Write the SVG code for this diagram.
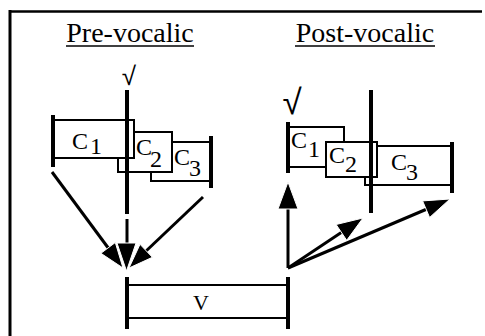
<svg xmlns="http://www.w3.org/2000/svg" width="485" height="336" viewBox="0 0 485 336">
<style>
text{font-family:"Liberation Serif","Times New Roman",serif;fill:#000}
.title{font-size:28px}
.lab{font-size:24px}
.root{font-family:"DejaVu Sans",sans-serif;font-weight:200}
.box{fill:#fff;stroke:#000;stroke-width:2}
.bar{stroke:#000;stroke-width:4;fill:none}
.thin{stroke:#000;stroke-width:1.6;fill:none}
.shaft{stroke:#000;stroke-width:3;fill:none}
.head{fill:#000;stroke:#fff;stroke-width:1}
</style>
<rect width="485" height="336" fill="#fff"/>
<g id="frame">
<line x1="10" y1="10" x2="10" y2="336" stroke="#000" stroke-width="3"/>
<line x1="9" y1="11.5" x2="482" y2="11.5" stroke="#000" stroke-width="2.5"/>
</g>
<g id="title-pre">
<text class="title" x="130" y="42" text-anchor="middle">Pre-vocalic</text>
<line class="thin" x1="66" y1="46" x2="194" y2="46"/>
</g>
<g id="title-post">
<text class="title" x="365" y="42" text-anchor="middle">Post-vocalic</text>
<line class="thin" x1="295" y1="46" x2="435" y2="46"/>
</g>
<g id="pre-c3">
<rect class="box" x="151" y="142" width="60" height="39"/>
<line class="bar" x1="211" y1="136" x2="211" y2="188"/>
<text class="lab" x="174" y="165">C</text><text class="lab" x="189" y="176">3</text>
</g>
<g id="pre-c2">
<rect class="box" x="118" y="132" width="54" height="40"/>
<text class="lab" x="136" y="155">C</text><text class="lab" x="150" y="167">2</text>
</g>
<g id="pre-c1">
<rect class="box" x="53" y="120" width="81" height="38"/>
<line class="bar" x1="53" y1="115" x2="53" y2="167"/>
<text class="lab" x="72" y="149">C</text><text class="lab" x="90" y="154">1</text>
</g>
<g id="pre-root">
<text class="root" x="129" y="85" text-anchor="middle" style="font-size:26px">√</text>
<line class="bar" x1="127" y1="90" x2="127" y2="214"/>
</g>
<g id="post-c1">
<rect class="box" x="288" y="127" width="56" height="40"/>
<line class="bar" x1="288" y1="122" x2="288" y2="173"/>
<text class="lab" x="291" y="148">C</text><text class="lab" x="308" y="157">1</text>
</g>
<g id="post-c3">
<rect class="box" x="365" y="146" width="87" height="39"/>
<line class="bar" x1="452" y1="142" x2="452" y2="193"/>
<text class="lab" x="391" y="170">C</text><text class="lab" x="406" y="180">3</text>
</g>
<g id="post-c2">
<rect class="box" x="326" y="142" width="51" height="35"/>
<text class="lab" x="329" y="163">C</text><text class="lab" x="345" y="172">2</text>
</g>
<g id="post-root">
<text class="root" x="292" y="114" text-anchor="middle" style="font-size:35px">√</text>
<line class="bar" x1="371" y1="90" x2="371" y2="213"/>
</g>
<g id="vowel">
<rect class="box" x="127" y="285" width="161" height="33"/>
<line class="bar" x1="127" y1="277" x2="127" y2="329"/>
<line class="bar" x1="288" y1="277" x2="288" y2="329"/>
<text class="lab" x="201" y="310" text-anchor="middle" style="font-size:22px">V</text>
</g>
<g id="connectors">
<line class="shaft" x1="52" y1="172" x2="109" y2="249"/>
<polygon class="head" points="123,268 115.3,242.5 100.9,253.3"/>
<line class="shaft" x1="127" y1="219" x2="127" y2="245"/>
<polygon class="head" points="126.5,271 117,243 136,243"/>
<line class="shaft" x1="203" y1="197" x2="145" y2="252"/>
<polygon class="head" points="129,268 152.4,257.3 140,244.3"/>
<line class="shaft" x1="288" y1="268" x2="288" y2="208"/>
<polygon class="head" points="288,182 278,209 298,209"/>
<line class="shaft" x1="288" y1="268" x2="342" y2="232"/>
<polygon class="head" points="363,218 346.7,240.3 336.1,224.5"/>
<line class="shaft" x1="288" y1="268" x2="427" y2="209"/>
<polygon class="head" points="450,199 429.6,217.5 422.6,200.9"/>
</g>
</svg>
